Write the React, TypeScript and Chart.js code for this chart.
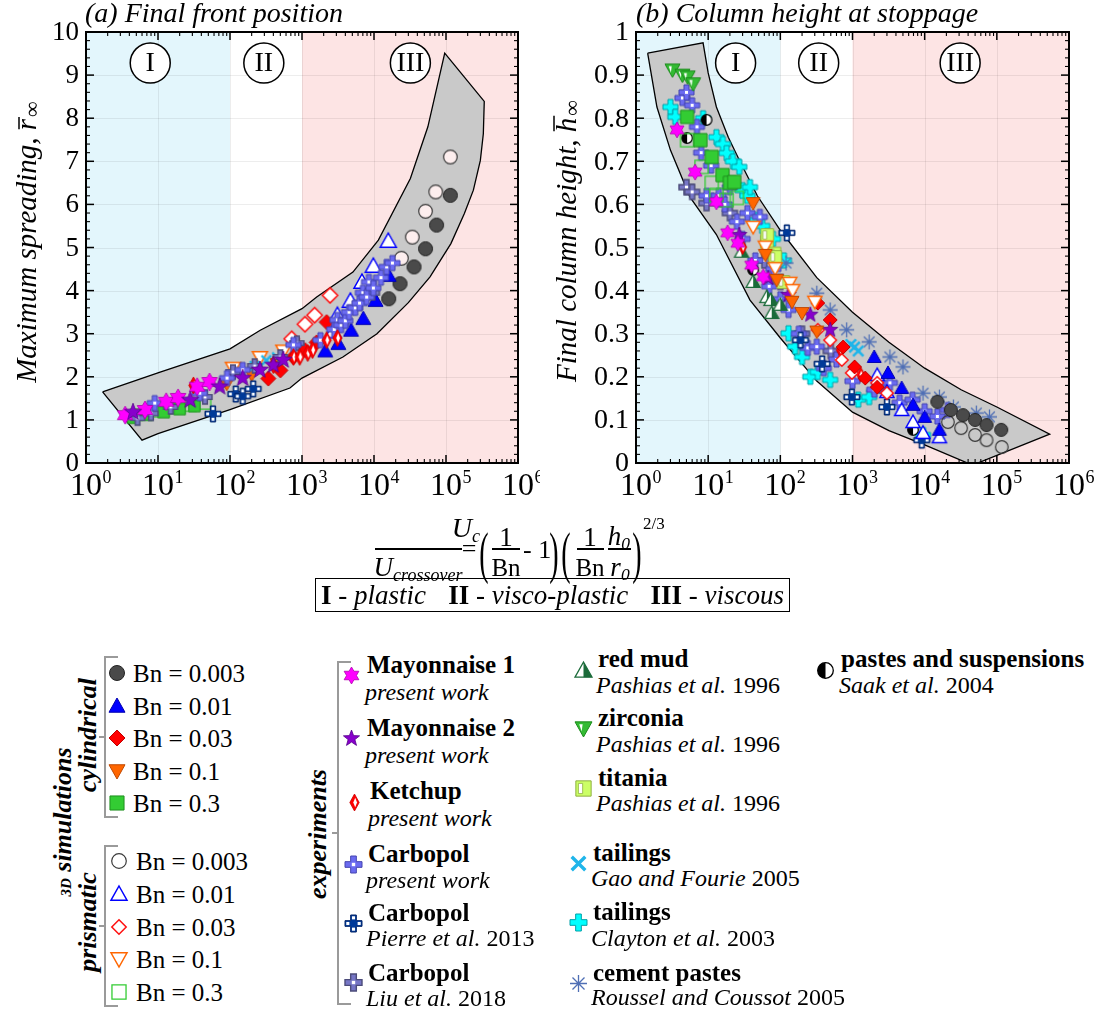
import React, { useEffect, useRef } from 'react';
import { Chart, registerables } from 'chart.js';

Chart.register(...registerables);

const SERIF = '"Liberation Serif", "DejaVu Serif", "Times New Roman", Times, serif';

type Pt = [number, number];

// ---------------- shared axis / regime info ----------------
const REGIME_EDGES = [1, 100, 1000, 1e6];
const REGIME_COLORS = ['#e3f6fc', 'rgba(255,255,255,0)', '#fde4e4'];
const REGIME_NAMES = ['I', 'II', 'III'];
const X_EXPONENTS = [0, 1, 2, 3, 4, 5, 6];

// ---------------- panel (a): final front position ----------------
const A_Y_TICKS = [0, 1, 2, 3, 4, 5, 6, 7, 8, 9, 10];
const A_Y_LABELS = ['0', '1', '2', '3', '4', '5', '6', '7', '8', '9', '10'];
const A_REGIME_X = [7.8, 295, 3.2e4];
const A_REGIME_Y = 9.28;

const A_BAND: Pt[] = [
  [1.7, 1.65], [10.7, 2.11], [100, 2.65], [263, 3.08], [1000, 3.58], [1.6e3, 3.85], [5.1e3, 4.43],
  [1.15e4, 5.17], [3.2e4, 6.6], [5.6e4, 7.8], [9.6e4, 9.51],
  [3.4e5, 8.39],
  [3.3e5, 7.64], [3.0e5, 7.02], [2.4e5, 6.33], [1.8e5, 5.79], [1.17e5, 5.09], [6.0e4, 4.32], [3.0e4, 3.72],
  [1.1e4, 3.0], [3.7e3, 2.46], [1.0e3, 1.97], [6.8e2, 1.74], [1.0e2, 1.24], [10, 0.68], [6.0, 0.53],
  [1.7, 1.65],
];

const A_CYL_0003: Pt[] = [[1.6e4, 3.81], [2.3e4, 4.16], [3.6e4, 4.55], [5.2e4, 4.97], [7.4e4, 5.52], [1.15e5, 6.21]];
const A_PRI_0003: Pt[] = [[2.4e4, 4.75], [3.4e4, 5.24], [5.2e4, 5.84], [7.2e4, 6.29], [1.15e5, 7.1]];
const A_CYL_001: Pt[] = [[2.1e3, 2.6], [3.2e3, 2.77], [4.8e3, 3.08], [7.1e3, 3.35], [1.05e4, 3.77], [1.6e4, 4.35]];
const A_PRI_001: Pt[] = [[2.7e3, 3.05], [3.1e3, 3.43], [4.7e3, 3.76], [6.8e3, 4.2], [9.8e3, 4.57], [1.58e4, 5.15]];
const A_CYL_003: Pt[] = [[3.4e2, 1.96], [5.0e2, 2.15], [7.6e2, 2.46], [1.1e3, 2.62], [1.6e3, 2.8], [2.2e3, 3.27]];
const A_PRI_003: Pt[] = [[7.2e2, 2.88], [1.1e3, 3.22], [1.5e3, 3.43], [2.45e3, 3.89]];
const A_CYL_01: Pt[] = [[90, 1.84], [2.0e2, 2.05], [4.5e2, 2.3]];
const A_PRI_01: Pt[] = [[1.1e2, 2.2], [2.6e2, 2.45], [5.5e2, 2.6]];
const A_CYL_03: Pt[] = [[4.5, 1.05], [7, 1.12], [12, 1.18], [20, 1.25], [32, 1.32]];
const A_PRI_03: Pt[] = [[5, 1.12], [9, 1.2], [16, 1.28], [28, 1.33], [45, 1.38]];
const A_MAYO1: Pt[] = [[3.5, 1.11], [6.6, 1.23], [13, 1.42], [19, 1.51], [35, 1.77], [52, 1.88]];
const A_MAYO2: Pt[] = [[4.5, 1.18], [28, 1.46], [72, 1.77], [1.5e2, 1.97], [2.6e2, 2.16], [4.0e2, 2.27], [5.5e2, 2.39]];
const A_KETCHUP: Pt[] = [[31, 1.8], [4.0e2, 2.27], [7.6e2, 2.46], [9.3e2, 2.46], [1.2e3, 2.55], [1.4e3, 2.62], [2.2e3, 2.85], [3.1e3, 2.9]];
const A_CARB_P: Pt[] = [
  [9, 1.39], [38, 1.62], [91, 1.97], [1.5e2, 2.16], [7.6e2, 2.74], [1.8e3, 2.85], [2.8e3, 3.1], [3.1e3, 3.32],
  [3.5e3, 3.2], [4.0e3, 3.3], [4.5e3, 3.5], [5.5e3, 3.6], [6.3e3, 3.71], [7.0e3, 3.95], [7.9e3, 3.85],
  [8.5e3, 4.2], [9.8e3, 4.06], [1.25e4, 4.3], [1.5e4, 4.55], [1.8e4, 4.64],
];
const A_PIERRE: Pt[] = [[58, 1.14], [1.2e2, 1.6], [1.5e2, 1.55], [2.1e2, 1.72]];
const A_CARB_LIU: Pt[] = [[5.2, 1.04], [8, 1.15], [15, 1.3], [45, 1.53], [1.1e2, 2.11], [2.2e2, 2.25], [5.0e2, 2.46], [8.5e2, 2.78], [9.5e3, 3.95]];
const A_GAO: Pt[] = [[2.2e2, 2.25], [3.2e2, 2.38], [4.5e2, 2.45]];

// ---------------- panel (b): column height at stoppage ----------------
const B_Y_TICKS = [0, 0.1, 0.2, 0.3, 0.4, 0.5, 0.6, 0.7, 0.8, 0.9, 1];
const B_Y_LABELS = ['0', '0.1', '0.2', '0.3', '0.4', '0.5', '0.6', '0.7', '0.8', '0.9', '1'];
const B_REGIME_X = [24, 340, 3.1e4];
const B_REGIME_Y = 0.928;

const B_BAND: Pt[] = [
  [1.45, 0.951], [8.5, 0.975],
  [10, 0.905], [13, 0.826], [19, 0.756], [27.5, 0.7], [48, 0.62], [1.0e2, 0.54], [3.2e2, 0.43], [1.0e3, 0.35],
  [3.2e3, 0.28], [1.0e4, 0.22], [3.2e4, 0.17], [1.0e5, 0.13], [5.4e5, 0.067],
  [4.6e4, -0.005], [1.0e4, 0.042], [3.2e3, 0.075], [1.0e3, 0.118], [3.2e2, 0.19], [1.0e2, 0.29], [38, 0.378],
  [13, 0.53], [5.6, 0.617], [3.0, 0.726], [1.95, 0.826], [1.45, 0.951],
];

const B_CYL_0003: Pt[] = [[1.5e4, 0.142], [2.3e4, 0.123], [3.4e4, 0.111], [5.0e4, 0.1], [7.2e4, 0.088], [1.15e5, 0.077]];
const B_PRI_0003: Pt[] = [[2.1e4, 0.095], [3.2e4, 0.081], [5.0e4, 0.065], [7.2e4, 0.053], [1.17e5, 0.037]];
const B_CYL_001: Pt[] = [[2.0e3, 0.246], [3.1e3, 0.209], [4.8e3, 0.174], [6.9e3, 0.135], [1.0e4, 0.107], [1.6e4, 0.077]];
const B_PRI_001: Pt[] = [[2.2e3, 0.204], [3.0e3, 0.165], [4.8e3, 0.123], [6.9e3, 0.095], [9.5e3, 0.07], [1.6e4, 0.06]];
const B_CYL_003: Pt[] = [[3.3e2, 0.371], [4.9e2, 0.332], [7.4e2, 0.269], [1.07e3, 0.223], [1.5e3, 0.197], [2.2e3, 0.176]];
const B_PRI_003: Pt[] = [[3.3e2, 0.309], [4.9e2, 0.285], [7.1e2, 0.239], [9.8e2, 0.209], [2.2e3, 0.186], [3.0e3, 0.162]];
const B_CYL_01: Pt[] = [[42, 0.603], [62, 0.483], [89, 0.425], [1.45e2, 0.374], [2.0e2, 0.348], [3.2e2, 0.305]];
const B_PRI_01: Pt[] = [[42, 0.548], [62, 0.502], [85, 0.452], [1.35e2, 0.418], [1.48e2, 0.401], [3.0e2, 0.374]];
const B_CYL_03: Pt[] = [[5.1, 0.803], [7.8, 0.749], [11.2, 0.71], [15.8, 0.668], [20, 0.65], [23, 0.652]];
const B_PRI_03: Pt[] = [[5.1, 0.749], [8.1, 0.687], [11.2, 0.65], [13, 0.622], [18, 0.61], [25, 0.615]];
const B_MAYO1: Pt[] = [[3.7, 0.773], [6.6, 0.675], [13, 0.606], [18.6, 0.534], [25.7, 0.51], [40, 0.459], [58, 0.432]];
const B_MAYO2: Pt[] = [[27, 0.529], [68, 0.429], [1.3e2, 0.39], [2.6e2, 0.344], [4.9e2, 0.309]];
const B_KETCHUP: Pt[] = [[30, 0.501], [6.8e2, 0.262], [1.3e3, 0.205]];
const B_REDMUD: Pt[] = [[29, 0.49], [42, 0.42], [65, 0.385], [74, 0.378], [76, 0.348], [1.0e2, 0.367]];
const B_ZIRC: Pt[] = [[3.2, 0.912], [4.4, 0.9], [5.2, 0.896], [6.2, 0.88]];
const B_TITANIA: Pt[] = [[65, 0.513], [66, 0.529], [83, 0.486], [85, 0.478], [1.1e2, 0.42]];
const B_SAAK: Pt[] = [[5.1, 0.754], [9.5, 0.796], [42, 0.448], [6.9e3, 0.077]];
const B_PIERRE: Pt[] = [[1.23e2, 0.534], [1.9e2, 0.285], [3.8e2, 0.23], [9.8e2, 0.153], [3.0e3, 0.13], [9.1e3, 0.053]];
const B_CARB_P: Pt[] = [
  [4.4, 0.847], [5.0, 0.86], [6, 0.83], [7, 0.78], [8, 0.72], [9.5, 0.62], [11, 0.69], [14, 0.62], [17, 0.6],
  [20, 0.64], [25, 0.56], [30, 0.52], [35, 0.58], [45, 0.47], [52, 0.571], [70, 0.41], [80, 0.45], [1.0e2, 0.38],
  [1.3e2, 0.355], [1.8e2, 0.3], [2.4e2, 0.267], [3.2e2, 0.27], [4.0e2, 0.22], [6.0e2, 0.24], [1.0e3, 0.19],
  [2.0e3, 0.17], [3.3e3, 0.186], [4.5e3, 0.14], [6.8e3, 0.147], [1.0e4, 0.12], [1.5e4, 0.108], [2.1e4, 0.123],
];
const B_CARB_LIU: Pt[] = [[5.0, 0.64], [6.0, 0.629], [9.5, 0.603], [20, 0.58], [60, 0.47], [1.0e2, 0.42], [2.0e2, 0.3], [5.0e2, 0.26], [2.5e3, 0.18]];
const B_GAO: Pt[] = [[9.5e2, 0.275], [1.07e3, 0.269], [1.2e3, 0.26]];
const B_CLAYTON: Pt[] = [
  [3.0, 0.826], [3.5, 0.803], [8.5, 0.8], [13, 0.756], [16, 0.74], [18, 0.719], [22, 0.7], [27, 0.687], [30, 0.633],
  [35, 0.62], [38, 0.64], [47, 0.564], [56, 0.55], [79, 0.52], [1.12e2, 0.47], [1.3e2, 0.301], [1.6e2, 0.27],
  [2.0e2, 0.246], [2.6e2, 0.2], [3.3e2, 0.211], [4.9e2, 0.193], [1.2e3, 0.147], [1.7e3, 0.153], [9.5e3, 0.065],
];
const B_CEMENT: Pt[] = [[1.2e2, 0.464], [3.2e2, 0.394], [4.9e2, 0.355], [8.3e2, 0.309], [1.7e3, 0.281], [3.3e3, 0.246], [5.0e3, 0.223], [9.5e3, 0.162], [1.6e4, 0.153], [2.5e4, 0.13], [5.2e4, 0.116], [7.9e4, 0.107]];

// ---------------- legend text ----------------
const SIM_BN = ['0.003', '0.01', '0.03', '0.1', '0.3'];
const CYL_KINDS = ['circF', 'triF', 'diaF', 'itriF', 'sqF'];
const PRI_KINDS = ['circO', 'triO', 'diaO', 'itriO', 'sqO'];
const CYL_ROW_Y = [673, 706, 738, 771, 803];
const PRI_ROW_Y = [861, 894, 927, 959, 992];

type Part = [string, boolean];
const EXP_ENTRIES: { kind: string; title: string; sub: Part[]; mx: number; my: number; tx: number; ty: number; sy: number }[] = [
  { kind: 'hex', title: 'Mayonnaise 1', sub: [['present work', true]], mx: 351, my: 675, tx: 367, ty: 664, sy: 692 },
  { kind: 'star5', title: 'Mayonnaise 2', sub: [['present work', true]], mx: 351, my: 738, tx: 367, ty: 727, sy: 755 },
  { kind: 'ketchup', title: 'Ketchup', sub: [['present work', true]], mx: 354, my: 802, tx: 370, ty: 790, sy: 818 },
  { kind: 'plusP', title: 'Carbopol', sub: [['present work', true]], mx: 353, my: 864, tx: 368, ty: 853, sy: 880 },
  { kind: 'plusN', title: 'Carbopol', sub: [['Pierre et al.', true], [' 2013', false]], mx: 353, my: 923, tx: 368, ty: 912, sy: 938 },
  { kind: 'plusL', title: 'Carbopol', sub: [['Liu et al.', true], [' 2018', false]], mx: 353, my: 982, tx: 368, ty: 972, sy: 998 },
  { kind: 'redmud', title: 'red mud', sub: [['Pashias et al.', true], [' 1996', false]], mx: 583, my: 670, tx: 598, ty: 658, sy: 685 },
  { kind: 'zirc', title: 'zirconia', sub: [['Pashias et al.', true], [' 1996', false]], mx: 583, my: 728, tx: 598, ty: 717, sy: 744 },
  { kind: 'titania', title: 'titania', sub: [['Pashias et al.', true], [' 1996', false]], mx: 583, my: 788, tx: 598, ty: 777, sy: 803 },
  { kind: 'xcyan', title: 'tailings', sub: [['Gao and Fourie', true], [' 2005', false]], mx: 578, my: 863, tx: 593, ty: 852, sy: 878 },
  { kind: 'pluscyan', title: 'tailings', sub: [['Clayton et al.', true], [' 2003', false]], mx: 578, my: 922, tx: 593, ty: 911, sy: 938 },
  { kind: 'aster', title: 'cement pastes', sub: [['Roussel and Coussot', true], [' 2005', false]], mx: 578, my: 983, tx: 593, ty: 972, sy: 997 },
  { kind: 'half', title: 'pastes and suspensions', sub: [['Saak et al.', true], [' 2004', false]], mx: 825, my: 670, tx: 841, ty: 658, sy: 685 },
];

// ---------------- markers ----------------
function drawMarker(ctx: CanvasRenderingContext2D, kind: string, cx: number, cy: number, s: number, openFill: string) {
  const h = s / 2;
  const P = (pts: number[][]) => {
    ctx.beginPath();
    pts.forEach(([u, v], i) => (i ? ctx.lineTo(cx + u, cy + v) : ctx.moveTo(cx + u, cy + v)));
    ctx.closePath();
  };
  const FS = (fill: string | null, stroke: string | null, lw: number) => {
    if (fill) { ctx.fillStyle = fill; ctx.fill(); }
    if (stroke) { ctx.strokeStyle = stroke; ctx.lineWidth = lw; ctx.stroke(); }
  };
  const tri = [[0, -h], [h, h * 0.78], [-h, h * 0.78]];
  const itri = [[-h, -h * 0.78], [h, -h * 0.78], [0, h]];
  const dia = [[0, -h], [h, 0], [0, h], [-h, 0]];
  const a = s / 6;
  const plus = [[-a, -h], [a, -h], [a, -a], [h, -a], [h, a], [a, a], [a, h], [-a, h], [-a, a], [-h, a], [-h, -a], [-a, -a]];
  const star = (n: number, ro: number, ri: number) => {
    const r: number[][] = [];
    for (let i = 0; i < 2 * n; i++) {
      const ang = -Math.PI / 2 + (i * Math.PI) / n;
      const rr = i % 2 ? ri : ro;
      r.push([rr * Math.cos(ang), rr * Math.sin(ang)]);
    }
    return r;
  };
  const sq = (half: number) => [[-half, -half], [half, -half], [half, half], [-half, half]];
  ctx.save();
  ctx.lineJoin = 'miter';
  switch (kind) {
    case 'circF':
      ctx.beginPath(); ctx.arc(cx, cy, h - 0.5, 0, Math.PI * 2); FS('#4a4a4a', '#222', 1); break;
    case 'circO':
      ctx.beginPath(); ctx.arc(cx, cy, h - 0.7, 0, Math.PI * 2); FS(openFill, '#3a3a3a', 1.2); break;
    case 'triF': P(tri); FS('#0000ff', '#0000b0', 1); break;
    case 'triO': P(tri); FS('#ffffff', '#0000ff', 1.5); break;
    case 'diaF': P(dia); FS('#ff0000', '#c00000', 1); break;
    case 'diaO': P(dia.map(([u, v]) => [u * 0.9, v * 0.9])); FS('#ffffff', '#ff1010', 1.5); break;
    case 'itriF': P(itri); FS('#ff6600', '#c04800', 1); break;
    case 'itriO': P(itri); FS('#ffffff', '#ff6600', 1.5); break;
    case 'sqF': P(sq(h * 0.88)); FS('#33cc33', '#1f8f1f', 1); break;
    case 'sqO': P(sq(h * 0.88)); FS(openFill, '#33cc33', 1.3); break;
    case 'hex': P(star(6, h, h * 0.58)); FS('#ff00ff', '#b000b0', 0.8); break;
    case 'star5': P(star(5, h, h * 0.42)); FS('#8800cc', '#55008a', 0.8); break;
    case 'ketchup':
      P([[0, -h], [h * 0.55, 0], [0, h], [-h * 0.55, 0]]); FS('#ff0000', '#cc0000', 0.8);
      P([[h * 0.08, -h * 0.55], [h * 0.3, 0], [h * 0.08, h * 0.55], [-h * 0.14, 0]]); FS('#ffffff', null, 0);
      break;
    case 'plusP':
      P(plus); FS('#6b6bf0', '#4545b0', 1);
      P(sq(a * 0.6)); FS('#ffffff', null, 0); break;
    case 'plusN': {
      P(plus); FS('#003a99', '#002266', 1);
      const w = a * 0.55;
      [[0, -2 * a], [2 * a, 0], [0, 2 * a], [-2 * a, 0]].forEach(([u, v]) => {
        P([[u - w, v - w], [u + w, v - w], [u + w, v + w], [u - w, v + w]]); FS('#ffffff', null, 0);
      });
      break;
    }
    case 'plusL':
      P(plus); FS('#7676c6', '#4c4c7a', 1.4);
      P(sq(a * 0.6)); FS('#ffffff', null, 0); break;
    case 'redmud':
      P(tri); FS('#ffffff', null, 0);
      P([[0, -h], [h, h * 0.78], [0, h * 0.78]]); FS('#1b6b3a', null, 0);
      P(tri); FS(null, '#1b6b3a', 1.3); break;
    case 'zirc':
      P(itri); FS('#33bb33', '#1a8a1a', 1);
      P([[-h * 0.5, -h * 0.5], [-h * 0.1, -h * 0.5], [-h * 0.22, h * 0.35]]); FS('#ffffff', null, 0); break;
    case 'titania':
      P(sq(h * 0.9)); FS('#ccff66', '#8fb040', 1);
      P([[-h * 0.6, -h * 0.6], [-h * 0.1, -h * 0.6], [-h * 0.1, h * 0.6], [-h * 0.6, h * 0.6]]); FS('#ffffff', '#8fb040', 0.8); break;
    case 'xcyan':
      ctx.strokeStyle = '#1fb5ea'; ctx.lineWidth = s * 0.2; ctx.lineCap = 'butt';
      ctx.beginPath(); ctx.moveTo(cx - h * 0.8, cy - h * 0.8); ctx.lineTo(cx + h * 0.8, cy + h * 0.8);
      ctx.moveTo(cx + h * 0.8, cy - h * 0.8); ctx.lineTo(cx - h * 0.8, cy + h * 0.8); ctx.stroke(); break;
    case 'pluscyan': P(plus); FS('#00ffff', '#00a0a8', 1); break;
    case 'aster':
      ctx.strokeStyle = '#4f6fb5'; ctx.lineWidth = 1.3;
      ctx.beginPath();
      for (let i = 0; i < 4; i++) {
        const ang = (i * Math.PI) / 4;
        ctx.moveTo(cx - h * Math.cos(ang), cy - h * Math.sin(ang)); ctx.lineTo(cx + h * Math.cos(ang), cy + h * Math.sin(ang));
      }
      ctx.stroke(); break;
    case 'half':
      ctx.beginPath(); ctx.arc(cx, cy, h - 0.7, 0, Math.PI * 2); FS('#ffffff', null, 0);
      ctx.beginPath(); ctx.arc(cx, cy, h - 0.7, Math.PI / 2, Math.PI * 1.5); ctx.closePath(); FS('#000000', null, 0);
      ctx.beginPath(); ctx.arc(cx, cy, h - 0.7, 0, Math.PI * 2); FS(null, '#000', 1.3); break;
    default: break;
  }
  ctx.restore();
}

function markerCanvas(kind: string, size: number, openFill: string) {
  const W = Math.ceil(size + 4);
  const c = document.createElement('canvas');
  c.width = W; c.height = W;
  drawMarker(c.getContext('2d') as CanvasRenderingContext2D, kind, W / 2, W / 2, size, openFill);
  return c;
}

// ---------------- panels ----------------
type Series = { data: Pt[]; kind: string; size: number; fill?: string };
type PanelCfg = {
  left: number; width: number; height: number;
  pad: { left: number; right: number; top: number; bottom: number };
  title: string; titleX: number;
  yTitle: string; ySym: string; yTitleX: number; yTitleY: number;
  yMax: number; yTicks: number[]; yLabels: string[]; yMinor: number; yLabelSize: number;
  regimeX: number[]; regimeY: number;
  band: Pt[]; series: Series[];
};

const PANEL_A: PanelCfg = {
  left: 0, width: 540, height: 520,
  pad: { left: 86, right: 22, top: 32, bottom: 57 },
  title: '(a) Final front position', titleX: 85,
  yTitle: 'Maximum spreading, ', ySym: 'r', yTitleX: 36, yTitleY: 242,
  yMax: 10, yTicks: A_Y_TICKS, yLabels: A_Y_LABELS, yMinor: 0.2, yLabelSize: 27,
  regimeX: A_REGIME_X, regimeY: A_REGIME_Y,
  band: A_BAND,
  series: [
    { data: A_MAYO2, kind: 'star5', size: 18 },
    { data: A_MAYO1, kind: 'hex', size: 18 },
    { data: A_KETCHUP, kind: 'ketchup', size: 17 },
    { data: A_PIERRE, kind: 'plusN', size: 16 },
    { data: A_CARB_P, kind: 'plusP', size: 15 },
    { data: A_CARB_LIU, kind: 'plusL', size: 14 },
    { data: A_GAO, kind: 'xcyan', size: 12 },
    { data: A_CYL_003, kind: 'diaF', size: 15 },
    { data: A_PRI_003, kind: 'diaO', size: 17 },
    { data: A_CYL_001, kind: 'triF', size: 15 },
    { data: A_PRI_001, kind: 'triO', size: 16 },
    { data: A_PRI_0003, kind: 'circO', size: 15, fill: '#fdeeee' },
    { data: A_CYL_0003, kind: 'circF', size: 15 },
    { data: A_CYL_01, kind: 'itriF', size: 14 },
    { data: A_PRI_01, kind: 'itriO', size: 15 },
    { data: A_CYL_03, kind: 'sqF', size: 13 },
    { data: A_PRI_03, kind: 'sqO', size: 13, fill: 'rgba(0,0,0,0)' },
  ],
};

const PANEL_B: PanelCfg = {
  left: 540, width: 556, height: 520,
  pad: { left: 96, right: 27, top: 32, bottom: 57 },
  title: '(b) Column height at stoppage', titleX: 96,
  yTitle: 'Final column height, ', ySym: 'h', yTitleX: 36, yTitleY: 241,
  yMax: 1, yTicks: B_Y_TICKS, yLabels: B_Y_LABELS, yMinor: 0.02, yLabelSize: 28,
  regimeX: B_REGIME_X, regimeY: B_REGIME_Y,
  band: B_BAND,
  series: [
    { data: B_CYL_03, kind: 'sqF', size: 15 },
    { data: B_CYL_01, kind: 'itriF', size: 14 },
    { data: B_PRI_01, kind: 'itriO', size: 14 },
    { data: B_MAYO1, kind: 'hex', size: 16 },
    { data: B_MAYO2, kind: 'star5', size: 16 },
    { data: B_CYL_003, kind: 'diaF', size: 14 },
    { data: B_PRI_003, kind: 'diaO', size: 14 },
    { data: B_KETCHUP, kind: 'ketchup', size: 15 },
    { data: B_CYL_001, kind: 'triF', size: 14 },
    { data: B_PRI_001, kind: 'triO', size: 14 },
    { data: B_CYL_0003, kind: 'circF', size: 14 },
    { data: B_PRI_0003, kind: 'circO', size: 14, fill: 'rgba(0,0,0,0)' },
    { data: B_PRI_03, kind: 'sqO', size: 15, fill: 'rgba(0,0,0,0)' },
    { data: B_ZIRC, kind: 'zirc', size: 15 },
    { data: B_REDMUD, kind: 'redmud', size: 14 },
    { data: B_TITANIA, kind: 'titania', size: 14 },
    { data: B_SAAK, kind: 'half', size: 12 },
    { data: B_PIERRE, kind: 'plusN', size: 16 },
    { data: B_GAO, kind: 'xcyan', size: 13 },
    { data: B_CEMENT, kind: 'aster', size: 15 },
    { data: B_CARB_P, kind: 'plusP', size: 15 },
    { data: B_CARB_LIU, kind: 'plusL', size: 15 },
    { data: B_CLAYTON, kind: 'pluscyan', size: 15 },
  ],
};

function decorPlugin(p: PanelCfg) {
  return {
    id: 'decor',
    beforeDraw(chart: any) {
      const { ctx, chartArea: a } = chart;
      const xs = chart.scales.x;
      ctx.save();
      for (let i = 0; i < 3; i++) {
        const x0 = xs.getPixelForValue(REGIME_EDGES[i]);
        const x1 = xs.getPixelForValue(REGIME_EDGES[i + 1]);
        ctx.fillStyle = REGIME_COLORS[i];
        ctx.fillRect(x0, a.top, x1 - x0, a.bottom - a.top);
      }
      ctx.restore();
    },
    beforeDatasetsDraw(chart: any) {
      const { ctx, chartArea: a } = chart;
      const xs = chart.scales.x, ys = chart.scales.y;
      ctx.save();
      ctx.strokeStyle = 'rgba(0,0,0,0.07)';
      ctx.lineWidth = 1;
      ctx.beginPath();
      X_EXPONENTS.forEach((e) => {
        const px = Math.round(xs.getPixelForValue(10 ** e)) + 0.5;
        ctx.moveTo(px, a.top); ctx.lineTo(px, a.bottom);
      });
      p.yTicks.forEach((v) => {
        const py = Math.round(ys.getPixelForValue(v)) + 0.5;
        ctx.moveTo(a.left, py); ctx.lineTo(a.right, py);
      });
      ctx.stroke();
      ctx.restore();
    },
    afterDatasetsDraw(chart: any) {
      const { ctx, chartArea: a } = chart;
      const xs = chart.scales.x, ys = chart.scales.y;
      ctx.save();
      p.regimeX.forEach((v, i) => {
        const px = xs.getPixelForValue(v), py = ys.getPixelForValue(p.regimeY);
        ctx.beginPath(); ctx.arc(px, py, 20, 0, Math.PI * 2);
        ctx.fillStyle = '#fff'; ctx.fill();
        ctx.strokeStyle = '#000'; ctx.lineWidth = 1.5; ctx.stroke();
        ctx.fillStyle = '#000'; ctx.font = `28px ${SERIF}`;
        ctx.textAlign = 'center'; ctx.textBaseline = 'middle';
        ctx.fillText(REGIME_NAMES[i], px, py + 1);
      });
      ctx.strokeStyle = '#000';
      const line = (x1: number, y1: number, x2: number, y2: number, lw: number) => {
        ctx.lineWidth = lw; ctx.beginPath(); ctx.moveTo(x1, y1); ctx.lineTo(x2, y2); ctx.stroke();
      };
      for (let e = 0; e < 6; e++) {
        for (let k = 1; k < 10; k++) {
          const px = xs.getPixelForValue(k * 10 ** e);
          const L = k === 1 ? 8 : 4;
          line(px, a.bottom, px, a.bottom - L, k === 1 ? 1.5 : 1.1);
          line(px, a.top, px, a.top + L, k === 1 ? 1.5 : 1.1);
        }
      }
      const n = Math.round(p.yMax / p.yMinor);
      for (let i = 0; i <= n; i++) {
        const py = ys.getPixelForValue(i * p.yMinor);
        const major = i % 5 === 0;
        const L = major ? 8 : 4;
        line(a.left, py, a.left + L, py, major ? 1.5 : 1.1);
        line(a.right, py, a.right - L, py, major ? 1.5 : 1.1);
      }
      ctx.lineWidth = 2;
      ctx.strokeRect(a.left, a.top, a.right - a.left, a.bottom - a.top);
      ctx.restore();
    },
    afterDraw(chart: any) {
      const { ctx, chartArea: a } = chart;
      const xs = chart.scales.x, ys = chart.scales.y;
      ctx.save();
      ctx.fillStyle = '#000';
      ctx.font = `${p.yLabelSize}px ${SERIF}`;
      ctx.textAlign = 'right'; ctx.textBaseline = 'middle';
      p.yTicks.forEach((v, i) => ctx.fillText(p.yLabels[i], a.left - 7, ys.getPixelForValue(v) + 1));
      ctx.textAlign = 'left'; ctx.textBaseline = 'alphabetic';
      X_EXPONENTS.forEach((e) => {
        const px = xs.getPixelForValue(10 ** e);
        ctx.font = `32px ${SERIF}`;
        const w = ctx.measureText('10').width;
        ctx.fillText('10', px - w / 2, a.bottom + 32);
        ctx.font = `18px ${SERIF}`;
        ctx.fillText(String(e), px + w / 2 + 0.5, a.bottom + 20);
      });
      ctx.font = `italic 28px ${SERIF}`;
      ctx.fillText(p.title, p.titleX, 22);
      ctx.translate(p.yTitleX, p.yTitleY);
      ctx.rotate(-Math.PI / 2);
      ctx.font = `italic 29px ${SERIF}`;
      const w1 = ctx.measureText(p.yTitle).width;
      const w2 = ctx.measureText(p.ySym).width;
      ctx.font = `22px ${SERIF}`;
      const w3 = ctx.measureText('∞').width;
      const x0 = -(w1 + w2 + w3 + 2) / 2;
      ctx.font = `italic 29px ${SERIF}`;
      ctx.fillText(p.yTitle, x0, 0);
      ctx.fillText(p.ySym, x0 + w1, 0);
      ctx.lineWidth = 1.5; ctx.strokeStyle = '#000';
      ctx.beginPath();
      const barY = p.ySym === 'h' ? -22 : -17;
      ctx.moveTo(x0 + w1 + 1, barY); ctx.lineTo(x0 + w1 + w2 + 2, barY); ctx.stroke();
      ctx.font = `22px ${SERIF}`;
      ctx.fillText('∞', x0 + w1 + w2 + 2, 3);
      ctx.restore();
    },
  };
}

function Panel({ p }: { p: PanelCfg }) {
  const ref = useRef<HTMLCanvasElement>(null);
  useEffect(() => {
    const canvas = ref.current as HTMLCanvasElement;
    const datasets: any[] = p.series.map((s, i) => ({
      data: s.data.map(([x, y]) => ({ x, y })),
      pointStyle: markerCanvas(s.kind, s.size, s.fill || '#ffffff'),
      pointRadius: 7,
      pointHoverRadius: 7,
      showLine: false,
      order: i,
    }));
    datasets.push({
      data: p.band.map(([x, y]) => ({ x, y })),
      showLine: true,
      fill: 'shape',
      backgroundColor: '#c9c9c9',
      borderColor: '#000',
      borderWidth: 1.3,
      pointRadius: 0,
      tension: 0,
      order: 999,
    });
    const chart = new Chart(canvas, {
      type: 'scatter',
      data: { datasets },
      options: {
        responsive: false,
        animation: false,
        devicePixelRatio: 1,
        events: [],
        layout: { padding: p.pad },
        plugins: { legend: { display: false }, tooltip: { enabled: false } },
        scales: {
          x: { type: 'logarithmic', min: 1, max: 1e6, display: false },
          y: { type: 'linear', min: 0, max: p.yMax, display: false },
        },
      } as any,
      plugins: [decorPlugin(p)],
    });
    return () => chart.destroy();
  }, [p]);
  return (
    <canvas
      ref={ref}
      width={p.width}
      height={p.height}
      style={{ position: 'absolute', left: p.left, top: 0, width: p.width, height: p.height }}
    />
  );
}

function Txt(props: { x: number; y: number; size: number; bold?: boolean; italic?: boolean; anchor?: string; sx?: number; children: any }) {
  const { x, y, size, bold, italic, anchor = 'l', sx = 1, children } = props;
  const tr = (anchor === 'c' ? 'translate(-50%,-50%)' : 'translateY(-50%)') + (sx !== 1 ? ` scaleX(${sx})` : '');
  return (
    <div
      style={{
        position: 'absolute', left: x, top: y, transform: tr,
        transformOrigin: anchor === 'c' ? 'center center' : 'left center',
        fontSize: size, fontWeight: bold ? 'bold' : 'normal', fontStyle: italic ? 'italic' : 'normal',
        lineHeight: 1, whiteSpace: 'nowrap',
      }}
    >
      {children}
    </div>
  );
}

function VTxt({ x, y, size, children }: { x: number; y: number; size: number; children: any }) {
  return (
    <div
      style={{
        position: 'absolute', left: x, top: y, transform: 'translate(-50%,-50%) rotate(-90deg)',
        fontSize: size, fontWeight: 'bold', fontStyle: 'italic', whiteSpace: 'nowrap', lineHeight: 1,
      }}
    >
      {children}
    </div>
  );
}

function Rule({ x, y, w, h, color = '#000' }: { x: number; y: number; w: number; h: number; color?: string }) {
  return <div style={{ position: 'absolute', left: x, top: y, width: w, height: h, background: color }} />;
}

function LegendMarker({ kind, x, y, size }: { kind: string; x: number; y: number; size: number }) {
  const ref = useRef<HTMLCanvasElement>(null);
  const W = Math.ceil(size + 6);
  useEffect(() => {
    const c = ref.current as HTMLCanvasElement;
    const ctx = c.getContext('2d') as CanvasRenderingContext2D;
    ctx.clearRect(0, 0, W, W);
    drawMarker(ctx, kind, W / 2, W / 2, size, '#ffffff');
  }, [kind, size, W]);
  return <canvas ref={ref} width={W} height={W} style={{ position: 'absolute', left: x - W / 2, top: y - W / 2 }} />;
}

function Bracket({ x, y1, y2, ym }: { x: number; y1: number; y2: number; ym: number }) {
  const c = '#9a9a9a';
  return (
    <>
      <Rule x={x} y={y1} w={1.5} h={y2 - y1} color={c} />
      <Rule x={x} y={y1} w={14} h={1.5} color={c} />
      <Rule x={x} y={y2} w={14} h={1.5} color={c} />
      <Rule x={x - 5} y={ym} w={5} h={1.5} color={c} />
    </>
  );
}

export default function App() {
  const sub = (t: string) => (
    <i style={{ fontSize: '0.65em', position: 'relative', top: '0.25em' }}>{t}</i>
  );
  return (
    <div
      style={{
        position: 'absolute', left: 0, top: 0, width: 1096, height: 1016, background: '#fff',
        fontFamily: SERIF, color: '#000', overflow: 'hidden',
      }}
    >
      <Panel p={PANEL_A} />
      <Panel p={PANEL_B} />

      {/* x-axis variable */}
      <Txt x={466} y={528} size={28} anchor="c"><i>U</i>{sub('c')}</Txt>
      <Rule x={375} y={548} w={87} h={2} />
      <Txt x={418} y={567} size={27} anchor="c"><i>U</i><i style={{ fontSize: 18, position: 'relative', top: 5 }}>crossover</i></Txt>
      <Txt x={469} y={549} size={26} anchor="c">=</Txt>
      <Txt x={484} y={553} size={56} anchor="c" sx={0.5}>(</Txt>
      <Txt x={506} y={537} size={27} anchor="c">1</Txt>
      <Rule x={492} y={548} w={28} h={2} />
      <Txt x={506} y={567} size={25} anchor="c">Bn</Txt>
      <Txt x={523} y={550} size={26}>- 1</Txt>
      <Txt x={554} y={553} size={56} anchor="c" sx={0.5}>)</Txt>
      <Txt x={566} y={553} size={56} anchor="c" sx={0.5}>(</Txt>
      <Txt x={590} y={537} size={27} anchor="c">1</Txt>
      <Rule x={577} y={548} w={27} h={2} />
      <Txt x={590} y={567} size={25} anchor="c">Bn</Txt>
      <Txt x={619} y={536} size={27} anchor="c"><i>h</i>{sub('0')}</Txt>
      <Rule x={608} y={548} w={23} h={2} />
      <Txt x={620} y={567} size={27} anchor="c"><i>r</i>{sub('0')}</Txt>
      <Txt x={637} y={553} size={56} anchor="c" sx={0.5}>)</Txt>
      <Txt x={643} y={523} size={17}>2/3</Txt>

      {/* regime legend box */}
      <div
        style={{
          position: 'absolute', left: 315, top: 578, width: 475, height: 34, boxSizing: 'border-box',
          border: '1.5px solid #000', display: 'flex', alignItems: 'center', justifyContent: 'space-between',
          padding: '0 5px', fontSize: 27, whiteSpace: 'nowrap', lineHeight: 1,
        }}
      >
        <span><b>I</b> - <i>plastic</i></span>
        <span><b>II</b> - <i>visco-plastic</i></span>
        <span><b>III</b> - <i>viscous</i></span>
      </div>

      {/* simulations legend */}
      <Bracket x={104} y1={656} y2={816} ym={736} />
      <Bracket x={104} y1={845} y2={1005} ym={925} />
      <VTxt x={88} y={735} size={26}>cylindrical</VTxt>
      <VTxt x={88} y={922} size={26}>prismatic</VTxt>
      <VTxt x={63} y={822} size={26}><span style={{ fontSize: 15 }}>3D</span> simulations</VTxt>
      {SIM_BN.map((bn, i) => (
        <React.Fragment key={'c' + i}>
          <LegendMarker kind={CYL_KINDS[i]} x={117} y={CYL_ROW_Y[i]} size={16} />
          <Txt x={133} y={CYL_ROW_Y[i]} size={25}>Bn = {bn}</Txt>
        </React.Fragment>
      ))}
      {SIM_BN.map((bn, i) => (
        <React.Fragment key={'p' + i}>
          <LegendMarker kind={PRI_KINDS[i]} x={119} y={PRI_ROW_Y[i]} size={16} />
          <Txt x={136} y={PRI_ROW_Y[i]} size={25}>Bn = {bn}</Txt>
        </React.Fragment>
      ))}

      {/* experiments legend */}
      <Bracket x={337} y1={661} y2={1003} ym={832} />
      <VTxt x={318} y={834} size={26}>experiments</VTxt>
      {EXP_ENTRIES.map((e, i) => (
        <React.Fragment key={'e' + i}>
          <LegendMarker kind={e.kind} x={e.mx} y={e.my} size={17} />
          <Txt x={e.tx} y={e.ty} size={25} bold>{e.title}</Txt>
          <Txt x={e.tx - 2} y={e.sy} size={24}>
            {e.sub.map(([t, it], j) => (it ? <i key={j}>{t}</i> : <span key={j}>{t}</span>))}
          </Txt>
        </React.Fragment>
      ))}
    </div>
  );
}
